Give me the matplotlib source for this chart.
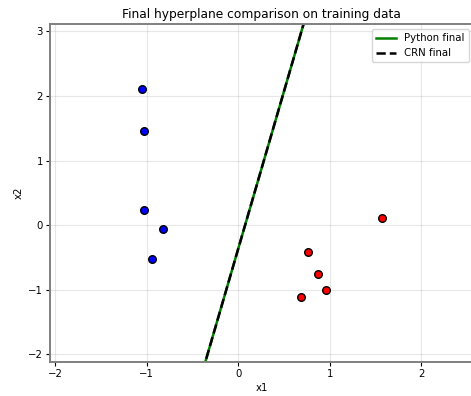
import numpy as np
import matplotlib
matplotlib.use("Agg")
import matplotlib.pyplot as plt

# training points
x1_pos = [-1.057, -1.027, -1.027, -0.823, -0.940]
x2_pos = [2.116, 1.466, 0.232, -0.062, -0.530]
x1_neg = [1.574, 0.765, 0.871, 0.962, 0.685]
x2_neg = [0.113, -0.413, -0.763, -1.000, -1.120]

# final hyperplane weights (w1*x1 + w2*x2 + b = 0)
w_python = [4.875, -1.0]
b_python = -0.366
w_crn = [4.875, -1.0]
b_crn = -0.366

all_x1 = np.array(x1_pos + x1_neg)
all_x2 = np.array(x2_pos + x2_neg)

fig = plt.figure(figsize=(4.71, 3.96), dpi=100)
ax = fig.add_axes([0.1062, 0.0859, 0.8996, 0.8535])

ax.scatter(x1_pos, x2_pos, c="blue", edgecolors="black", s=30, zorder=3)
ax.scatter(x1_neg, x2_neg, c="red", edgecolors="black", s=30, zorder=3)

xmin, xmax = all_x1.min() - 1, all_x1.max() + 1
ymin, ymax = all_x2.min() - 1, all_x2.max() + 1
xs = np.linspace(xmin, xmax, 200)

ys_py = -(w_python[0] * xs + b_python) / w_python[1]
ys_crn = -(w_crn[0] * xs + b_crn) / w_crn[1]
ax.plot(xs, ys_py, color="green", lw=1.8, label="Python final")
ax.plot(xs, ys_crn, color="black", lw=1.8, ls="--", label="CRN final")

ax.set_xlim(xmin, xmax)
ax.set_ylim(ymin, ymax)
ax.set_xlabel("x1", fontsize=7.3, labelpad=3)
ax.set_ylabel("x2", fontsize=7.3, labelpad=3)
ax.set_title("Final hyperplane comparison on training data", fontsize=8.8, pad=4.5)
ax.tick_params(labelsize=7.3, length=2.6, pad=2.6)
ax.grid(True, alpha=0.3)
for sp in ax.spines.values():
    sp.set_color("gray")
    sp.set_linewidth(1.4)
ax.legend(loc="upper right", fontsize=7.3)

fig.savefig("out.png", dpi=100)
